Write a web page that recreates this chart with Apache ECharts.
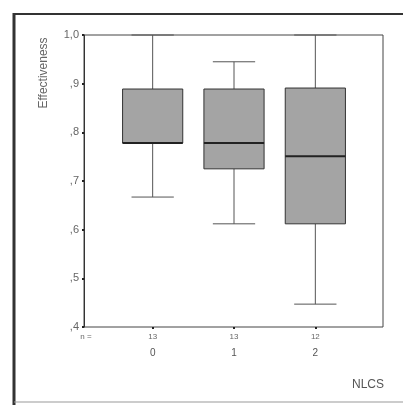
<!DOCTYPE html>
<html>
<head>
<meta charset="utf-8">
<script src="https://cdn.jsdelivr.net/npm/echarts@6/dist/echarts.min.js"></script>
<style>
  html, body { margin: 0; padding: 0; background: #fff; }
  #chart { width: 403px; height: 405px; }
</style>
</head>
<body>
<div id="chart"></div>
<script>
// data
const categories = ['0', '1', '2'];
const counts = [13, 13, 12];
const whiskerLow = [0.667, 0.612, 0.447];
const q1 = [0.778, 0.725, 0.612];
const median = [0.778, 0.778, 0.751];
const q3 = [0.889, 0.889, 0.891];
const whiskerHigh = [1.0, 0.945, 1.0];
const yTicks = [0.4, 0.5, 0.6, 0.7, 0.8, 0.9, 1.0];

const font = 'Liberation Sans, Arial, sans-serif';

const boxData = categories.map((c, i) => [i, whiskerLow[i], q1[i], median[i], q3[i], whiskerHigh[i]]);

const chart = echarts.init(document.getElementById('chart'));

chart.setOption({
    backgroundColor: '#fff',
    animation: false,
    textStyle: { fontFamily: font },
    grid: [
        // frame of the plot
        { left: 84, top: 35, width: 299, height: 292, show: true, borderColor: '#444', borderWidth: 1, backgroundColor: 'transparent' },
        // boxes sit in a narrower band
        { left: 112, top: 35, width: 244, height: 292 }
    ],
    xAxis: [
        { gridIndex: 0, type: 'value', min: 0, max: 1, show: false },
        {
            gridIndex: 1,
            type: 'category',
            data: categories,
            axisLine: { show: false },
            axisTick: { show: true, alignWithLabel: true, length: 2, lineStyle: { color: '#222', width: 2 } },
            axisLabel: {
                margin: 2,
                formatter: (v, i) => '{n|' + counts[i] + '}\n{c|' + v + '}',
                rich: {
                    n: { fontSize: 8, color: '#666', fontFamily: font, lineHeight: 16 },
                    c: { fontSize: 10, color: '#555', fontFamily: font, lineHeight: 16 }
                }
            },
            splitLine: { show: false }
        }
    ],
    yAxis: [
        {
            gridIndex: 0,
            type: 'value',
            min: 0.4,
            max: 1.0,
            interval: 0.1,
            axisLine: { show: true, lineStyle: { color: '#333', width: 1 } },
            axisTick: { show: true, length: 2, lineStyle: { color: '#222', width: 2 } },
            axisLabel: {
                margin: 5,
                fontSize: 11,
                color: '#666',
                formatter: v => {
                    const t = yTicks.find(k => Math.abs(k - v) < 1e-6);
                    if (t === undefined) return '';
                    return t >= 1 ? '1,0' : ',' + Math.round(t * 10);
                }
            },
            splitLine: { show: false }
        },
        { gridIndex: 1, type: 'value', min: 0.4, max: 1.0, show: false }
    ],
    graphic: [
        // outer frame
        { type: 'line', shape: { x1: 14, y1: 14, x2: 403, y2: 14 }, style: { stroke: '#333', lineWidth: 2 } },
        { type: 'line', shape: { x1: 14, y1: 13, x2: 14, y2: 405 }, style: { stroke: '#333', lineWidth: 3 } },
        { type: 'line', shape: { x1: 14, y1: 402, x2: 403, y2: 402 }, style: { stroke: '#999', lineWidth: 1 } },
        {
            type: 'text', x: 44, y: 73, rotation: Math.PI / 2,
            style: { text: 'Effectiveness', font: '12px ' + font, fill: '#666', align: 'center', verticalAlign: 'middle' }
        },
        {
            type: 'text', x: 86, y: 337,
            style: { text: 'n =', font: '8px ' + font, fill: '#666', align: 'center', verticalAlign: 'middle' }
        },
        {
            type: 'text', x: 384, y: 385,
            style: { text: 'NLCS', font: '12px ' + font, fill: '#555', align: 'right', verticalAlign: 'middle' }
        }
    ],
    series: [{
        type: 'custom',
        xAxisIndex: 1,
        yAxisIndex: 1,
        data: boxData,
        encode: { x: 0, y: [1, 2, 3, 4, 5] },
        renderItem: function (params, api) {
            const x = api.value(0);
            const band = api.size([1, 0])[0];
            const bw = band * 0.74;
            const cw = band * 0.52;
            const pLow = api.coord([x, api.value(1)]);
            const pQ1 = api.coord([x, api.value(2)]);
            const pMed = api.coord([x, api.value(3)]);
            const pQ3 = api.coord([x, api.value(4)]);
            const pHigh = api.coord([x, api.value(5)]);
            const cx = pQ1[0];
            const line = '#333';
            return {
                type: 'group',
                children: [
                    { type: 'line', shape: { x1: cx, y1: pHigh[1], x2: cx, y2: pQ3[1] }, style: { stroke: '#555', lineWidth: 1 } },
                    { type: 'line', shape: { x1: cx, y1: pQ1[1], x2: cx, y2: pLow[1] }, style: { stroke: '#555', lineWidth: 1 } },
                    { type: 'line', shape: { x1: cx - cw / 2, y1: pHigh[1], x2: cx + cw / 2, y2: pHigh[1] }, style: { stroke: '#555', lineWidth: 1 } },
                    { type: 'line', shape: { x1: cx - cw / 2, y1: pLow[1], x2: cx + cw / 2, y2: pLow[1] }, style: { stroke: '#555', lineWidth: 1 } },
                    { type: 'rect', shape: { x: cx - bw / 2, y: pQ3[1], width: bw, height: pQ1[1] - pQ3[1] }, style: { fill: '#a4a4a4', stroke: line, lineWidth: 1 } },
                    { type: 'line', shape: { x1: cx - bw / 2, y1: pMed[1], x2: cx + bw / 2, y2: pMed[1] }, style: { stroke: '#222', lineWidth: 2 } }
                ]
            };
        }
    }]
});
</script>
</body>
</html>
